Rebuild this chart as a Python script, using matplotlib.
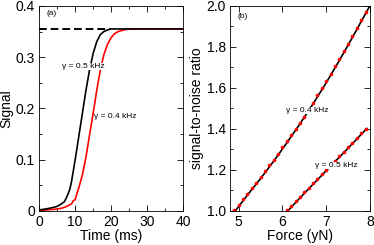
import numpy as np
import matplotlib
matplotlib.use("Agg")
import matplotlib.pyplot as plt
from matplotlib.ticker import MultipleLocator

plt.rcParams['font.family'] = ['Liberation Sans', 'DejaVu Sans']

# panel (a): signal vs time
t_black = [0, 2, 4, 5, 6, 7, 7.5, 8, 8.5, 9, 10, 11, 12, 13, 14, 15, 16, 17, 18, 19, 20, 22, 24, 40]
s_black = [0.002, 0.004, 0.007, 0.009, 0.013, 0.018, 0.025, 0.033, 0.042, 0.058, 0.1, 0.145,
           0.19, 0.235, 0.275, 0.307, 0.33, 0.344, 0.35, 0.353, 0.355, 0.355, 0.355, 0.355]
t_red = [0, 2, 4, 6, 7, 8, 9, 9.5, 10, 10.5, 11, 12, 13, 14, 15, 16, 17, 18, 19, 20, 21, 22,
         23, 24, 26, 28, 40]
s_red = [0.001, 0.002, 0.003, 0.005, 0.007, 0.01, 0.014, 0.02, 0.022, 0.034, 0.045, 0.07, 0.105,
         0.148, 0.19, 0.235, 0.275, 0.305, 0.325, 0.338, 0.346, 0.35, 0.352, 0.354, 0.355, 0.355, 0.355]
t_dash = [0, 20]
s_dash = [0.355, 0.355]

# panel (b): signal-to-noise ratio vs force
f_dots_04 = [4.9, 5.0, 5.1, 5.2, 5.3, 5.4, 5.5, 5.6, 5.7, 5.8, 5.9, 6.0, 6.1, 6.2, 6.3, 6.4, 6.5,
             6.6, 6.7, 6.8, 6.9, 7.0, 7.1, 7.2, 7.3, 7.4, 7.5, 7.6, 7.7, 7.8, 7.9]
snr_dots_04 = [1.005, 1.03, 1.057, 1.083, 1.11, 1.138, 1.165, 1.193, 1.222, 1.25, 1.28, 1.31,
               1.34, 1.37, 1.40, 1.43, 1.46, 1.494, 1.528, 1.563, 1.598, 1.634, 1.67, 1.707,
               1.742, 1.778, 1.815, 1.853, 1.89, 1.93, 1.97]
f_line_04 = [4.92, 5.2, 5.5, 5.8, 6.1, 6.4, 6.7, 7.0, 7.3, 7.6, 7.9, 8.0]
snr_line_04 = [1.0, 1.078, 1.158, 1.243, 1.332, 1.425, 1.522, 1.625, 1.733, 1.846, 1.962, 2.0]

f_dots_05 = [6.1, 6.2, 6.3, 6.4, 6.5, 6.6, 6.7, 6.8, 6.9, 7.0, 7.1, 7.2, 7.3, 7.4, 7.5, 7.6,
             7.7, 7.8, 7.9]
snr_dots_05 = [1.003, 1.025, 1.047, 1.068, 1.09, 1.112, 1.134, 1.156, 1.178, 1.20, 1.222,
               1.244, 1.266, 1.288, 1.31, 1.333, 1.355, 1.378, 1.40]
f_line_05 = [6.12, 6.5, 7.0, 7.5, 7.93]
snr_line_05 = [1.0, 1.086, 1.196, 1.306, 1.402]

fig = plt.figure(figsize=(3.74, 2.45), dpi=100)
ax1 = fig.add_axes([0.105, 0.139, 0.384, 0.837])
ax2 = fig.add_axes([0.615, 0.139, 0.374, 0.837])

def style(ax):
    ax.tick_params(which='both', direction='in', top=True, right=True, labelsize=10, pad=3)
    ax.tick_params(which='major', length=4, width=0.6)
    ax.tick_params(which='minor', length=2, width=0.6)
    for s in ax.spines.values():
        s.set_linewidth(0.6)

# (a)
ax1.plot(t_dash, s_dash, color='black', lw=1.4, ls=(0, (4, 2)))
ax1.plot(t_red, s_red, color='red', lw=1.2)
ax1.plot(t_black, s_black, color='black', lw=1.2)
ax1.set_xlim(0, 40)
ax1.set_ylim(0, 0.4)
ax1.xaxis.set_major_locator(MultipleLocator(10))
ax1.xaxis.set_minor_locator(MultipleLocator(5))
ax1.yaxis.set_major_locator(MultipleLocator(0.1))
ax1.yaxis.set_minor_locator(MultipleLocator(0.05))
ax1.set_yticklabels(['0', '0.1', '0.2', '0.3', '0.4'])
ax1.set_yticks([0, 0.1, 0.2, 0.3, 0.4])
ax1.set_yticklabels(['0', '0.1', '0.2', '0.3', '0.4'])
ax1.set_xlabel('Time (ms)', fontsize=10, labelpad=0)
ax1.set_ylabel('Signal', fontsize=10, labelpad=2)
style(ax1)
ax1.text(2, 0.383, '(a)', fontsize=6)
ax1.text(6.2, 0.282, '\u03b3 = 0.5 kHz', fontsize=6, va='center',
         bbox=dict(facecolor='white', edgecolor='none', pad=0))
ax1.text(15.3, 0.185, '\u03b3 = 0.4 kHz', fontsize=6, va='center',
         bbox=dict(facecolor='white', edgecolor='none', pad=0))

# (b)
ax2.plot(f_line_04, snr_line_04, color='black', lw=1.2)
ax2.plot(f_line_05, snr_line_05, color='black', lw=1.2)
ax2.plot(f_dots_04, snr_dots_04, 'o', color='red', ms=2.6, mew=0)
ax2.plot(f_dots_05, snr_dots_05, 'o', color='red', ms=2.6, mew=0)
ax2.set_xlim(4.8, 8)
ax2.set_ylim(1.0, 2.0)
ax2.xaxis.set_major_locator(MultipleLocator(1))
ax2.yaxis.set_major_locator(MultipleLocator(0.2))
ax2.yaxis.set_minor_locator(MultipleLocator(0.1))
ax2.yaxis.set_major_formatter(matplotlib.ticker.FormatStrFormatter('%.1f'))
ax2.set_xlabel('Force (yN)', fontsize=10, labelpad=0)
ax2.set_ylabel('signal-to-noise ratio', fontsize=10, labelpad=2)
style(ax2)
ax2.text(4.98, 1.94, '(b)', fontsize=6)
ax2.text(6.08, 1.489, '\u03b3 = 0.4 kHz', fontsize=6, va='center', zorder=5,
         bbox=dict(facecolor='white', edgecolor='none', pad=0))
ax2.text(6.75, 1.22, '\u03b3 = 0.5 kHz', fontsize=6, va='center', zorder=5,
         bbox=dict(facecolor='white', edgecolor='none', pad=0))

fig.savefig('out.png', dpi=100)
